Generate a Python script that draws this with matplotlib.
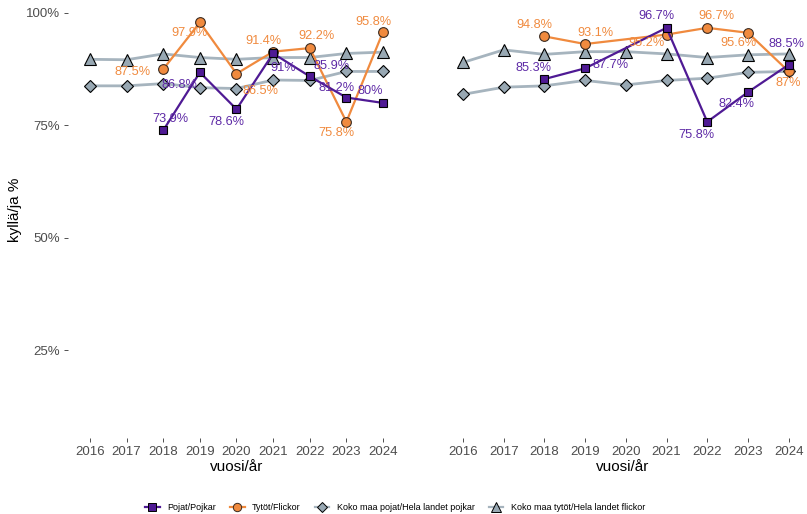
import numpy as np
import matplotlib
matplotlib.use("Agg")
import matplotlib.pyplot as plt
from matplotlib.lines import Line2D

plt.rcParams['font.family'] = ['Liberation Sans', 'DejaVu Sans']

years = [2016, 2017, 2018, 2019, 2020, 2021, 2022, 2023, 2024]

# vasen paneeli
left_boys_years = [2018, 2019, 2020, 2021, 2022, 2023, 2024]
left_boys = [73.9, 86.8, 78.6, 91.0, 85.9, 81.2, 80.0]
left_girls_years = [2018, 2019, 2020, 2021, 2022, 2023, 2024]
left_girls = [87.5, 97.9, 86.5, 91.4, 92.2, 75.8, 95.8]
left_nat_boys = [83.8, 83.8, 84.3, 83.4, 83.2, 85.1, 85.0, 87.0, 87.0]
left_nat_girls = [89.7, 89.6, 90.9, 90.1, 89.7, 90.1, 90.1, 91.0, 91.3]

# oikea paneeli
right_boys_years = [2018, 2019, 2021, 2022, 2023, 2024]
right_boys = [85.3, 87.7, 96.7, 75.8, 82.4, 88.5]
right_girls_years = [2018, 2019, 2021, 2022, 2023, 2024]
right_girls = [94.8, 93.1, 95.2, 96.7, 95.6, 87.0]
right_nat_boys = [81.9, 83.5, 83.8, 85.0, 84.0, 85.0, 85.5, 86.8, 87.0]
right_nat_girls = [89.0, 91.8, 90.8, 91.4, 91.4, 90.9, 90.1, 90.7, 90.9]

series_names = ['Pojat/Pojkar', 'Tytöt/Flickor',
                'Koko maa pojat/Hela landet pojkar', 'Koko maa tytöt/Hela landet flickor']

# label offsets in pixels (dx, dy down) - mimic ggrepel placement
left_boys_off = [(7, -11.5), (-20, 12.5), (-10, 13), (10, 15), (22, -10), (-10, -10), (-13, -12)]
left_girls_off = [(-31, 3), (-10, 11), (24, 17), (-10, -11), (7, -12.5), (-10, 11.5), (-10, -10)]
right_boys_off = [(-11, -11.5), (25, -3.5), (-10, -12), (-11, 13), (-11.5, 12), (-2, -21)]
right_girls_off = [(-9.5, -11.4), (10, -10.7), (-20, 8.7), (9, -12), (-10, 10.5), (0, 12)]

PURPLE = '#4f1a94'
PURPLE_TXT = '#5e2aa6'
ORANGE = '#f08a3e'
GRAY_LINE = '#a6b4be'
GRAY_FILL = '#98a8b3'
TICK_COL = '#4d4d4d'

fig = plt.figure(figsize=(8.07, 5.14), dpi=100)
bottom = 76 / 514
height = 445.25 / 514
ax1 = fig.add_axes([68 / 807, bottom, (405 - 68) / 807, height])
ax2 = fig.add_axes([438.5 / 807, bottom, (807 - 438.5) / 807, height])


def draw_panel(ax, boys_y, boys, girls_y, girls, nat_boys, nat_girls, boys_off, girls_off, xmax):
    ax.plot(years, np.array(nat_girls) / 100, color=GRAY_LINE, lw=2, zorder=2)
    ax.plot(years, np.array(nat_boys) / 100, color=GRAY_LINE, lw=2, zorder=2)
    ax.plot(years, np.array(nat_girls) / 100, ls='none', marker='^', ms=8,
            mfc=GRAY_FILL, mec='black', mew=0.8, zorder=3)
    ax.plot(years, np.array(nat_boys) / 100, ls='none', marker='D', ms=5.8,
            mfc=GRAY_FILL, mec='black', mew=0.8, zorder=3)
    ax.plot(girls_y, np.array(girls) / 100, color=ORANGE, lw=1.6, marker='o', ms=7,
            mfc=ORANGE, mec='#3a2a20', mew=0.8, zorder=4)
    ax.plot(boys_y, np.array(boys) / 100, color=PURPLE, lw=1.6, marker='s', ms=6.3,
            mfc=PURPLE, mec='black', mew=0.8, zorder=5)
    for x, v, (dx, dy) in zip(girls_y, girls, girls_off):
        ax.annotate(f"{v:g}%", (x, v / 100), xytext=(dx, -dy), textcoords='offset pixels',
                    ha='center', va='center', fontsize=9.2, color=ORANGE, zorder=6)
    for x, v, (dx, dy) in zip(boys_y, boys, boys_off):
        ax.annotate(f"{v:g}%", (x, v / 100), xytext=(dx, -dy), textcoords='offset pixels',
                    ha='center', va='center', fontsize=9.2, color=PURPLE_TXT, zorder=6)

    ax.set_xlim(2015.4, xmax)
    ax.set_ylim(0.055, 1.045)
    ax.set_xticks(years)
    ax.set_xticklabels([str(y) for y in years])
    for s in ax.spines.values():
        s.set_visible(False)
    ax.tick_params(axis='both', colors='#333333', labelcolor=TICK_COL, labelsize=9.5,
                   length=3, width=0.6, pad=3)
    ax.set_xlabel('vuosi/år', fontsize=11, labelpad=1)
    ax.set_facecolor('white')


draw_panel(ax1, left_boys_years, left_boys, left_girls_years, left_girls,
           left_nat_boys, left_nat_girls, left_boys_off, left_girls_off, 2024.6)
draw_panel(ax2, right_boys_years, right_boys, right_girls_years, right_girls,
           right_nat_boys, right_nat_girls, right_boys_off, right_girls_off, 2024.45)

ax1.set_yticks([0.25, 0.5, 0.75, 1.0])
ax1.set_yticklabels(['25%', '50%', '75%', '100%'])
ax2.set_yticks([])
fig.text(15 / 807, 1 - 210 / 514, 'kyllä/ja %', rotation=90, ha='center', va='center', fontsize=11)

handles = [
    Line2D([], [], color=PURPLE, lw=1.6, marker='s', ms=5.5, mfc=PURPLE, mec='black', mew=0.7),
    Line2D([], [], color=ORANGE, lw=1.6, marker='o', ms=6, mfc=ORANGE, mec='#3a2a20', mew=0.7),
    Line2D([], [], color=GRAY_LINE, lw=1.6, marker='D', ms=5, mfc=GRAY_FILL, mec='black', mew=0.7),
    Line2D([], [], color=GRAY_LINE, lw=1.6, marker='^', ms=7, mfc=GRAY_FILL, mec='black', mew=0.7),
]
fig.legend(handles, series_names, loc='center', bbox_to_anchor=(395 / 807, 1 - 508 / 514),
           ncol=4, frameon=False, fontsize=6.5, handlelength=1.6, handletextpad=0.8,
           columnspacing=1.6)

fig.savefig('out.png', dpi=100, facecolor='white')
